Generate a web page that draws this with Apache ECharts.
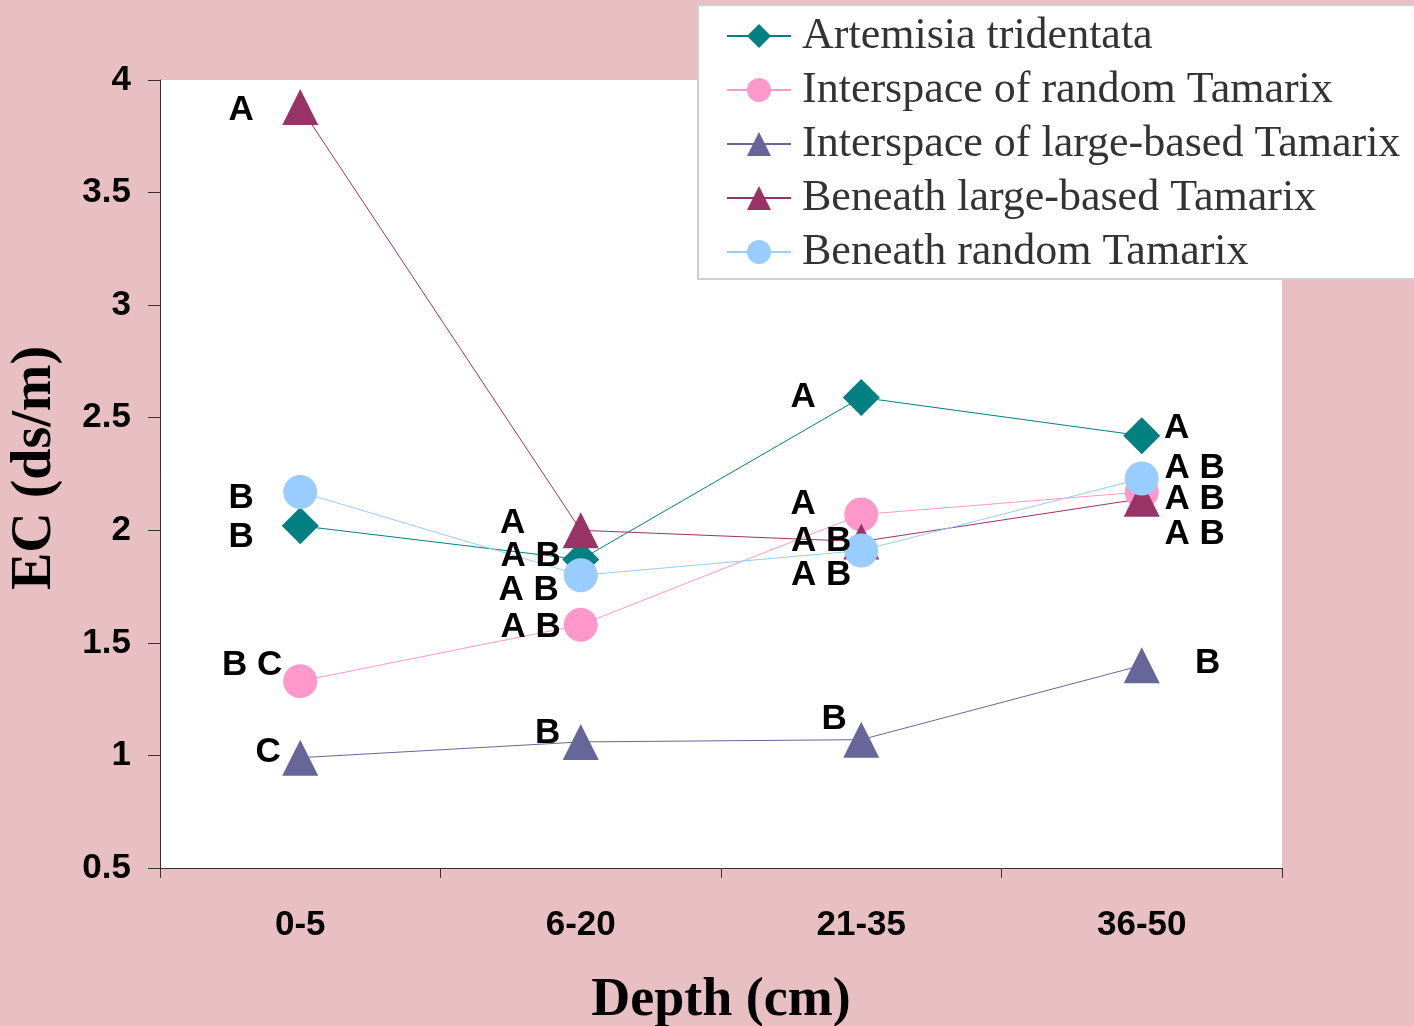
<!DOCTYPE html>
<html>
<head>
<meta charset="utf-8">
<script src="https://cdn.jsdelivr.net/npm/echarts@6/dist/echarts.min.js"></script>
<style>
html,body{margin:0;padding:0;background:#E8BFC2;overflow:hidden;}
#c{width:1414px;height:1026px;}
</style>
</head>
<body>
<div id="c"></div>
<script>
// ---- data ----
const categories = ['0-5', '6-20', '21-35', '36-50'];
const seriesNames = [
  'Artemisia tridentata',
  'Interspace of random Tamarix',
  'Interspace of large-based Tamarix',
  'Beneath large-based Tamarix',
  'Beneath random Tamarix'
];
const artemisia     = [2.02, 1.87, 2.59, 2.42];
const interRandom   = [1.33, 1.58, 2.07, 2.17];
const interLarge    = [0.99, 1.06, 1.07, 1.40];
const beneathLarge  = [3.88, 2.00, 1.95, 2.14];
const beneathRandom = [2.17, 1.80, 1.91, 2.23];

const artLetters = ['B', 'A B', 'A', 'A'];
const irLetters  = ['B C', 'A B', 'A', 'A B'];
const ilLetters  = ['C', 'B', 'B', 'B'];
const blLetters  = ['A', 'A', 'A B', 'A B'];
const brLetters  = ['B', 'A B', 'A B', 'A B'];

const yTicks = { min: 0.5, max: 4, interval: 0.5 };

// ---- styles / label placement ----
const styles = [
  { color: '#008080', symbol: 'diamond',  size: 37, offsets: [[-59, 10], [-50, -5], [-58, -2], [35, -9]] },
  { color: '#FF99CC', symbol: 'circle',   size: 34, offsets: [[-48, -18], [-50, 0], [-58, -12], [53, 5]] },
  { color: '#666699', symbol: 'triangle', size: 36, offsets: [[-32, -7], [-33, -11], [-27, -22], [66, -4]] },
  { color: '#993366', symbol: 'triangle', size: 36, offsets: [[-59, 1], [-68, -9], [-40, -2], [53, 34]] },
  { color: '#99CCFF', symbol: 'circle',   size: 34, offsets: [[-59, 4], [-52, 13], [-40, 23], [53, -12]] }
];
const labelShiftY = 2;
const values = [artemisia, interRandom, interLarge, beneathLarge, beneathRandom];
const letters = [artLetters, irLetters, ilLetters, blLetters, brLetters];

const labelFont = { fontFamily: '"Liberation Sans", Arial, sans-serif', fontWeight: 'bold', fontSize: 35, color: '#000' };

const series = values.map((vals, s) => ({
  name: seriesNames[s],
  type: 'line',
  symbol: styles[s].symbol,
  symbolSize: styles[s].size,
  itemStyle: { color: styles[s].color },
  lineStyle: { color: styles[s].color, width: 1 },
  emphasis: { disabled: true },
  data: vals.map((v, i) => ({
    value: v,
    label: Object.assign({
      show: true,
      position: 'inside',
      formatter: letters[s][i],
      offset: [styles[s].offsets[i][0], styles[s].offsets[i][1] + labelShiftY],
      align: 'center',
      verticalAlign: 'middle'
    }, labelFont)
  }))
}));

const chart = echarts.init(document.getElementById('c'), null, { renderer: 'canvas' });
chart.setOption({
  animation: false,
  backgroundColor: '#E8BFC2',
  grid: {
    left: 160, right: 132, top: 80, bottom: 158,
    outerBoundsMode: 'none',
    containLabel: false,
    show: true, backgroundColor: '#ffffff', borderWidth: 0
  },
  legend: {
    orient: 'vertical',
    left: 698, top: 5,
    padding: [4, 30, 0, 28],
    backgroundColor: '#ffffff',
    borderColor: '#cfcfcf',
    borderWidth: 2,
    itemWidth: 64,
    itemHeight: 30,
    itemGap: 0,
    lineStyle: { width: 2 },
    textStyle: { fontFamily: '"Liberation Serif", "Times New Roman", serif', fontSize: 44, color: '#333', lineHeight: 54, padding: [0, 0, 0, 6] },
    data: seriesNames
  },
  xAxis: {
    type: 'category',
    data: categories,
    boundaryGap: true,
    name: 'Depth (cm)',
    nameLocation: 'middle',
    nameGap: 106,
    nameTextStyle: { fontFamily: '"Liberation Serif", "Times New Roman", serif', fontWeight: 'bold', fontSize: 54, color: '#000' },
    axisLine: { lineStyle: { color: '#333', width: 1 } },
    axisTick: { show: true, length: 10, lineStyle: { color: '#333' } },
    axisLabel: { margin: 40, fontFamily: '"Liberation Sans", Arial, sans-serif', fontWeight: 'bold', fontSize: 35, color: '#000' },
    splitLine: { show: false }
  },
  yAxis: {
    type: 'value',
    min: yTicks.min, max: yTicks.max, interval: yTicks.interval,
    name: 'EC (ds/m)',
    nameLocation: 'middle',
    nameGap: 96,
    nameTextStyle: { fontFamily: '"Liberation Serif", "Times New Roman", serif', fontWeight: 'bold', fontSize: 56, color: '#000', padding: [0, 0, 0, 12] },
    axisLine: { show: true, lineStyle: { color: '#333', width: 1 } },
    axisTick: { show: true, length: 12, lineStyle: { color: '#333' } },
    axisLabel: { margin: 29, fontFamily: '"Liberation Sans", Arial, sans-serif', fontWeight: 'bold', fontSize: 35, color: '#000' },
    splitLine: { show: false }
  },
  series: series
});
</script>
</body>
</html>
